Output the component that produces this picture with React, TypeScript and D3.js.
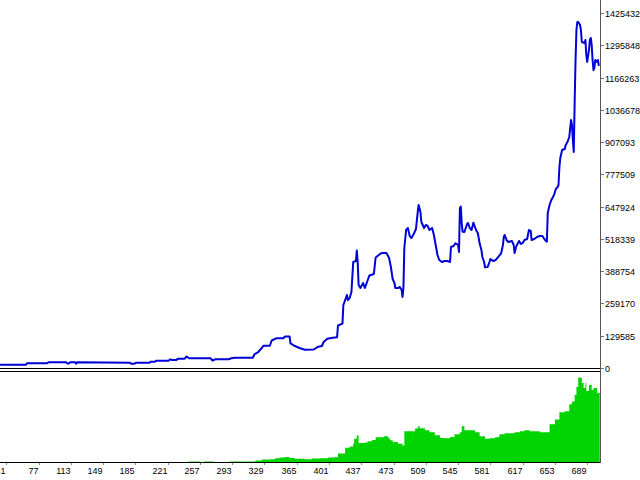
import * as d3 from 'd3'
import { useEffect, useRef } from 'react'

// equity curve: trade number -> balance
const trades = [
  34, 63, 64, 86, 88, 108, 109, 111, 112, 118, 119, 120,
  179, 180, 184, 186, 201, 202, 207, 208, 222, 224, 226, 231, 232, 240, 242, 245,
  269, 271, 274, 289, 292, 296, 316, 318, 322, 326, 328, 335, 337, 342, 350, 352, 357,
  358, 363, 368, 374, 384, 389, 393, 395, 399, 405, 410, 411, 416, 417, 421, 422, 424, 426,
  428, 431, 432, 433, 434, 436, 439, 441, 443, 446, 451, 453, 459, 462, 465, 468, 470, 472, 474, 475, 478, 480, 482, 483, 484,
  485, 487, 489, 491, 493, 496, 498, 500, 501, 503, 504, 507, 509, 511, 513, 516, 518, 520, 522, 524, 527, 530, 533, 536,
  537, 540, 542, 545, 546, 547, 548, 549, 550, 552, 555, 556, 558, 560, 562, 565, 567, 569, 571, 572, 574, 575, 578, 580, 581, 584, 587, 590,
  593, 595, 596, 597, 599, 601, 605, 607, 608, 610, 613, 615, 617, 619, 622, 624, 626, 627, 630, 633, 636, 639, 642, 644,
  645, 647, 649, 652, 654, 656, 657, 658, 659, 661, 664, 665, 667, 669, 671, 672, 673, 674,
  675, 676, 677, 678, 679, 681, 682, 683, 686, 687, 688, 689, 691, 692, 693, 694, 695, 696, 697, 698, 700, 701, 702,
]
const equity = [
  13300, 13300, 18900, 18900, 22900, 22900, 18100, 18100, 22900, 22900, 17300, 22900,
  21300, 17300, 17300, 21300, 21300, 25300, 25300, 29300, 29300, 34900, 32100, 32100, 37300, 37300, 46200, 39000,
  39000, 30100, 34900, 34900, 39000, 41400, 41400, 56200, 64200, 80300, 89500, 89500, 110400, 119300, 119300, 126500, 126500,
  98400, 88300, 80300, 73500, 74300, 85500, 88300, 104400, 117700, 121700, 123300, 170700, 177900, 253000, 293100, 273100, 281100, 305200,
  425700, 429700, 471800, 425700, 333300, 321200, 341300, 321200, 341300, 371400, 377500, 443700, 460600, 461800, 461800, 441700, 405600, 357400, 341300, 321200, 321200, 325300, 313200, 285100, 321200,
  481900, 554100, 562200, 530100, 522000, 542100, 558200, 627600, 654500, 626400, 586300, 562200, 574200, 570200, 554100, 562200, 534100, 493900, 453800, 433700, 425700, 429700, 429700, 425700,
  485900, 489900, 500800, 493900, 465800, 642500, 647700, 581100, 547300, 546100, 578300, 582300, 562200, 554100, 583500, 554100, 542100, 500700, 473800, 446900, 425700, 404400, 405600, 425700, 437700, 429700, 433700, 446900,
  460600, 493900, 527200, 534100, 514000, 506000, 510000, 493900, 461800, 489900, 510000, 497900, 502000, 514000, 518000, 554100, 550100, 514000, 518000, 526000, 530100, 530100, 514000, 507200,
  622400, 654500, 674600, 694700, 718800, 726800, 734900, 807100, 843300, 875400, 879400, 895500, 907500, 927600, 995900, 975800, 915600, 867400,
  1064100, 1236800, 1357300, 1389400, 1389400, 1377400, 1357300, 1309100, 1305100, 1317100, 1256900, 1228800, 1277000, 1317100, 1325100, 1297000, 1236800, 1196600, 1204700, 1236800, 1228800, 1236800, 1212700,
]

// lower pane histogram (relative units, 0..100)
const loadTrades = [
  236, 244, 257, 262, 272, 290, 319, 326, 335, 341, 346, 352, 357, 363, 374, 382, 391, 400, 407, 411,
  417, 419, 424, 428, 429, 432, 434, 441, 444, 449, 453, 458, 462, 467, 469, 472, 478, 483, 485, 491,
  497, 500, 502, 508, 513, 519, 525, 530, 536, 541, 547, 549, 552, 558, 564, 569, 575, 580, 586, 591,
  597, 603, 608, 614, 619, 625, 630, 636, 642, 647, 653, 658, 664, 669, 672, 675, 677, 679, 682, 683,
  685, 687, 688, 691, 694, 696, 700, 702, 703,
]
const load = [
  0, 0.6, 0, 0.6, 0, 0.6, 1.7, 2.8, 3.1, 4.2, 5.0, 5.5, 4.4, 3.5, 3.1, 3.9, 4.2, 5.0, 5.3, 9.4,
  9.4, 15.7, 17.1, 20.4, 25.6, 29.3, 21.0, 21.5, 22.7, 24.3, 27.1, 27.1, 28.2, 26.0, 23.8, 22.1, 20.1, 18.2, 33.7, 33.7,
  36.7, 39.2, 37.0, 34.8, 32.6, 29.3, 26.3, 26.0, 27.4, 30.4, 32.6, 39.2, 34.8, 34.8, 32.6, 28.2, 25.6, 26.0, 27.1, 30.4,
  31.5, 31.5, 32.6, 33.7, 34.8, 33.7, 33.7, 32.6, 32.6, 41.4, 46.6, 54.7, 55.8, 63.5, 66.6, 73.5, 82.3, 92.8, 92.3, 86.7,
  81.2, 86.7, 77.9, 84.5, 79.0, 81.2, 75.7, 75.7, 75.7,
]

const xTickLabels = ['41', '77', '113', '149', '185', '221', '257', '293', '329', '365', '401', '437', '473', '509', '545', '581', '617', '653', '689']
const yTickLabels = ['0', '129585', '259170', '388754', '518339', '647924', '777509', '907093', '1036678', '1166263', '1295848', '1425432']

const FONT = "'Liberation Sans', Arial, sans-serif"
const AXIS_X = 600.5
const MAIN_BOTTOM = 368.5
const SUB_TOP = 371.5
const SUB_BOTTOM = 462.5

const drawChart = (el: SVGSVGElement) => {
  const svg = d3.select(el)
  svg.selectAll('*').remove()

  const x = d3.scaleLinear().domain([41, 689]).range([6.3, 587.2])
  const y = d3.scaleLinear().domain([0, 1425432]).range([368, 13])
  const yLoad = d3.scaleLinear().domain([0, 100]).range([462, 371])

  svg.append('rect').attr('width', 640).attr('height', 480).attr('fill', '#fff')

  const defs = svg.append('defs')
  defs.append('clipPath').attr('id', 'clip-main')
    .append('rect').attr('x', 0).attr('y', 0).attr('width', AXIS_X).attr('height', 368)
  defs.append('clipPath').attr('id', 'clip-sub')
    .append('rect').attr('x', 0).attr('y', 372).attr('width', AXIS_X).attr('height', 90)

  // green histogram
  const loadData = loadTrades.map((t, i) => ({ t, v: load[i] }))
  const area = d3.area<{ t: number, v: number }>()
    .curve(d3.curveStepAfter)
    .x(d => x(d.t))
    .y0(yLoad(0))
    .y1(d => yLoad(d.v))
  svg.append('path')
    .attr('clip-path', 'url(#clip-sub)')
    .attr('d', area(loadData))
    .attr('fill', '#00d400')

  // equity line
  const eqData = trades.map((t, i) => ({ t, v: equity[i] }))
  const line = d3.line<{ t: number, v: number }>()
    .x(d => x(d.t))
    .y(d => y(d.v))
  svg.append('path')
    .attr('clip-path', 'url(#clip-main)')
    .attr('d', line(eqData))
    .attr('fill', 'none')
    .attr('stroke', '#0000d8')
    .attr('stroke-width', 2)
    .attr('stroke-linejoin', 'round')

  // pane borders
  const frame = svg.append('g').attr('stroke', '#000').attr('stroke-width', 1).attr('shape-rendering', 'crispEdges')
  frame.append('line').attr('x1', 0).attr('x2', AXIS_X).attr('y1', MAIN_BOTTOM).attr('y2', MAIN_BOTTOM)
  frame.append('line').attr('x1', 0).attr('x2', AXIS_X).attr('y1', SUB_TOP).attr('y2', SUB_TOP)
  frame.append('line').attr('x1', 0).attr('x2', AXIS_X).attr('y1', SUB_BOTTOM).attr('y2', SUB_BOTTOM)
  frame.append('line').attr('x1', AXIS_X).attr('x2', AXIS_X).attr('y1', 0).attr('y2', SUB_BOTTOM)
    .attr('stroke', '#555')

  // right axis
  const yAxis = svg.append('g')
  yTickLabels.forEach(lbl => {
    const yy = Math.round(y(+lbl)) + 0.5
    yAxis.append('line')
      .attr('x1', AXIS_X).attr('x2', AXIS_X + 3).attr('y1', yy).attr('y2', yy)
      .attr('stroke', '#777').attr('shape-rendering', 'crispEdges')
    yAxis.append('text')
      .attr('x', 605).attr('y', yy + 3.2)
      .attr('font-family', FONT).attr('font-size', 9)
      .attr('fill', '#000')
      .text(lbl)
  })

  // bottom axis
  const xAxis = svg.append('g')
  xTickLabels.forEach(lbl => {
    const xx = Math.round(x(+lbl)) + 0.5
    xAxis.append('line')
      .attr('x1', xx).attr('x2', xx).attr('y1', SUB_BOTTOM).attr('y2', SUB_BOTTOM + 2)
      .attr('stroke', '#888').attr('shape-rendering', 'crispEdges')
    xAxis.append('text')
      .attr('x', xx - 1).attr('y', 474)
      .attr('text-anchor', 'end')
      .attr('font-family', FONT).attr('font-size', 9)
      .attr('fill', '#000')
      .text(lbl)
  })
}

export default function App() {
  const ref = useRef<SVGSVGElement>(null)

  useEffect(() => {
    document.body.style.margin = '0'
    if (ref.current) drawChart(ref.current)
  }, [])

  return <svg ref={ref} width={640} height={480} style={{ display: 'block' }} />
}
